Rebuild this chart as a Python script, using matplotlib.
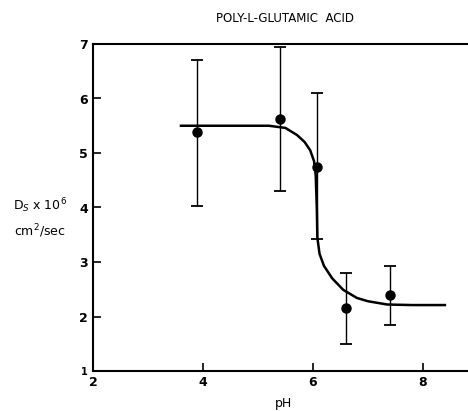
import matplotlib
matplotlib.use("Agg")
import matplotlib.pyplot as plt

ph_pts = [3.9, 5.4, 6.07, 6.6, 7.4]
ds_pts = [5.38, 5.63, 4.75, 2.15, 2.40]
err_hi = [6.70, 6.95, 6.10, 2.80, 2.93]
err_lo = [4.03, 4.30, 3.42, 1.50, 1.85]

# hand-drawn fitted curve
curve_ph = [3.6, 4.5, 5.2, 5.5, 5.71, 5.85, 5.95, 6.02, 6.05, 6.07, 6.08,
            6.12, 6.2, 6.35, 6.55, 6.8, 7.0, 7.35, 7.8, 8.4]
curve_ds = [5.50, 5.50, 5.50, 5.46, 5.33, 5.20, 5.05, 4.85, 4.60, 4.00, 3.45,
            3.15, 2.93, 2.70, 2.49, 2.34, 2.28, 2.22, 2.21, 2.21]

xticks = [2, 4, 6, 8]
yticks = [1, 2, 3, 4, 5, 6, 7]

plt.rcParams["font.family"] = ["DejaVu Sans"]

fig = plt.figure(figsize=(4.68, 4.11), dpi=100)
ax = fig.add_axes([93 / 468, 40 / 411, 1 - 93 / 468, 327 / 411])

ax.plot(curve_ph, curve_ds, color="black", lw=1.8)

yerr = [[d - lo for d, lo in zip(ds_pts, err_lo)],
        [hi - d for d, hi in zip(ds_pts, err_hi)]]
ax.errorbar(ph_pts, ds_pts, yerr=yerr, fmt="o", color="black", ms=6.5,
            ecolor="black", elinewidth=1.0, capsize=4, capthick=1.3)

ax.set_xlim(2, 8.82)
ax.set_ylim(1, 7)
ax.set_xticks(xticks)
ax.set_yticks(yticks)
ax.set_yticklabels(["1", "2", "3", "4", "5", "6", "7"])
ax.tick_params(direction="in", length=6, width=1.2, labelsize=9)
for lbl in ax.get_xticklabels() + ax.get_yticklabels():
    lbl.set_fontweight("bold")
    if lbl.get_text() == "1":
        lbl.set_fontsize(7)
ax.spines["right"].set_visible(False)
for s in ["left", "bottom", "top"]:
    ax.spines[s].set_linewidth(1.5)

fig.text(285 / 468, 1 - 18 / 411, "POLY-L-GLUTAMIC  ACID", ha="center",
         va="center", fontsize=8.5)
fig.text(40 / 468, 1 - 218 / 411, "D$_S$ x 10$^6$\ncm$^2$/sec", ha="center",
         va="center", fontsize=9, linespacing=1.5)
fig.text(283 / 468, 1 - 403 / 411, "pH", ha="center", va="center", fontsize=9)

fig.savefig("out.png", dpi=100)
